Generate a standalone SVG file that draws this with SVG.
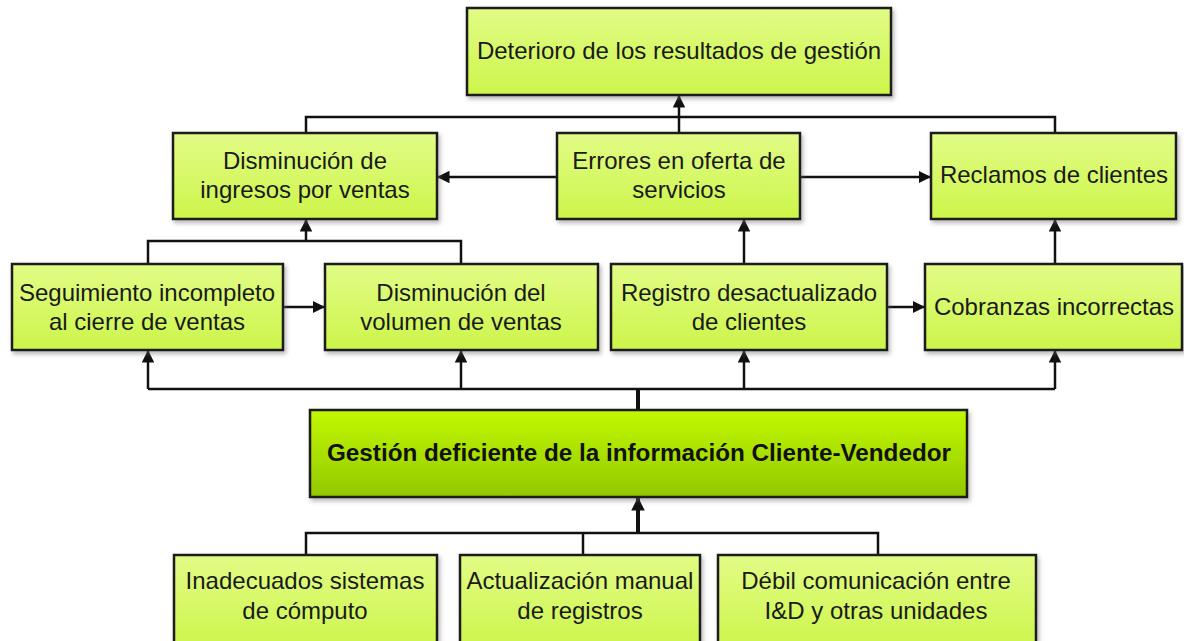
<svg xmlns="http://www.w3.org/2000/svg" width="1184" height="641" viewBox="0 0 1184 641">
<style>
.box{fill:url(#g1);stroke:#1a1a1a;stroke-width:2.5;filter:url(#sh)}
.main{fill:url(#g2);stroke:#1a1a1a;stroke-width:2.5;filter:url(#sh)}
.t{font-family:"Liberation Sans",Arial,sans-serif;font-size:24px;fill:#1a1a1a;text-anchor:middle}
.tb{font-family:"Liberation Sans",Arial,sans-serif;font-size:23px;font-weight:bold;fill:#111;text-anchor:middle}
.ln{fill:none;stroke:#111;stroke-width:2.5}
.lt{fill:none;stroke:#111;stroke-width:4}
</style>
<defs>
<linearGradient id="g1" x1="0" y1="0" x2="0" y2="1"><stop offset="0" stop-color="#e2fc86"/><stop offset="1" stop-color="#ccf54a"/></linearGradient>
<linearGradient id="g2" x1="0" y1="0" x2="0" y2="1"><stop offset="0" stop-color="#c2f800"/><stop offset="1" stop-color="#92c800"/></linearGradient>
<filter id="sh" x="-5%" y="-5%" width="112%" height="120%"><feDropShadow dx="2" dy="3" stdDeviation="2" flood-color="#666" flood-opacity="0.45"/></filter>
<marker id="ar" viewBox="0 0 10 10" refX="10" refY="5" markerWidth="5" markerHeight="5" orient="auto" markerUnits="strokeWidth"><path d="M0,0 L10,5 L0,10 Z" fill="#111"/></marker>
<marker id="ar2" viewBox="0 0 10 10" refX="10" refY="5" markerWidth="3.4" markerHeight="3.4" orient="auto" markerUnits="strokeWidth"><path d="M0,0 L10,5 L0,10 Z" fill="#111"/></marker>
</defs>
<rect width="1184" height="641" fill="#fff"/>
<g id="connectors">
<path class="ln" d="M306,133 V117 H1055 V133"/>
<path class="ln" d="M679,133 V95" marker-end="url(#ar)"/>
<path class="ln" d="M557,177 H437" marker-end="url(#ar)"/>
<path class="ln" d="M800,177 H931" marker-end="url(#ar)"/>
<path class="ln" d="M148,264 V241 H461 V264"/>
<path class="ln" d="M306,241 V219" marker-end="url(#ar)"/>
<path class="ln" d="M744,264 V219" marker-end="url(#ar)"/>
<path class="ln" d="M1055,264 V219" marker-end="url(#ar)"/>
<path class="ln" d="M283,307 H325" marker-end="url(#ar)"/>
<path class="ln" d="M887,307 H925" marker-end="url(#ar)"/>
<path class="ln" d="M148,389 H1055"/>
<path class="ln" d="M148,389 V350" marker-end="url(#ar)"/>
<path class="ln" d="M461,389 V350" marker-end="url(#ar)"/>
<path class="ln" d="M744,389 V350" marker-end="url(#ar)"/>
<path class="ln" d="M1055,389 V350" marker-end="url(#ar)"/>
<path class="lt" d="M638,410 V389"/>
<path class="ln" d="M306,555 V533 H878 V555"/>
<path class="ln" d="M583,555 V533"/>
<path class="lt" d="M638,534 V497" marker-end="url(#ar2)"/>
</g>
<g id="n_deterioro"><rect class="box" x="467" y="8" width="424" height="87"/><text class="t" x="679" y="59">Deterioro de los resultados de gestión</text></g>
<g id="n_ingresos"><rect class="box" x="173" y="133" width="264" height="86"/><text class="t" x="305" y="169">Disminución de</text><text class="t" x="305" y="198">ingresos por ventas</text></g>
<g id="n_errores"><rect class="box" x="557" y="133" width="243" height="86"/><text class="t" x="679" y="169">Errores en oferta de</text><text class="t" x="679" y="198">servicios</text></g>
<g id="n_reclamos"><rect class="box" x="931" y="133" width="245" height="86"/><text class="t" x="1054" y="183">Reclamos de clientes</text></g>
<g id="n_seguimiento"><rect class="box" x="12" y="264" width="271" height="86"/><text class="t" x="147" y="301">Seguimiento incompleto</text><text class="t" x="147" y="330">al cierre de ventas</text></g>
<g id="n_volumen"><rect class="box" x="325" y="264" width="273" height="86"/><text class="t" x="461" y="301">Disminución del</text><text class="t" x="461" y="330">volumen de ventas</text></g>
<g id="n_registro"><rect class="box" x="611" y="264" width="276" height="86"/><text class="t" x="749" y="301">Registro desactualizado</text><text class="t" x="749" y="330">de clientes</text></g>
<g id="n_cobranzas"><rect class="box" x="925" y="264" width="257" height="86"/><text class="t" x="1054" y="315">Cobranzas incorrectas</text></g>
<g id="n_gestion"><rect class="main" x="310" y="410" width="657" height="87"/><text class="tb" x="639" y="461" textLength="624" lengthAdjust="spacingAndGlyphs">Gestión deficiente de la información Cliente-Vendedor</text></g>
<g id="n_inadecuados"><rect class="box" x="174" y="555" width="263" height="95"/><text class="t" x="305" y="589">Inadecuados sistemas</text><text class="t" x="305" y="619">de cómputo</text></g>
<g id="n_actualizacion"><rect class="box" x="460" y="555" width="240" height="95"/><text class="t" x="580" y="589">Actualización manual</text><text class="t" x="580" y="619">de registros</text></g>
<g id="n_debil"><rect class="box" x="718" y="555" width="318" height="95"/><text class="t" x="876" y="589">Débil comunicación entre</text><text class="t" x="876" y="619">I&amp;D y otras unidades</text></g>
</svg>
